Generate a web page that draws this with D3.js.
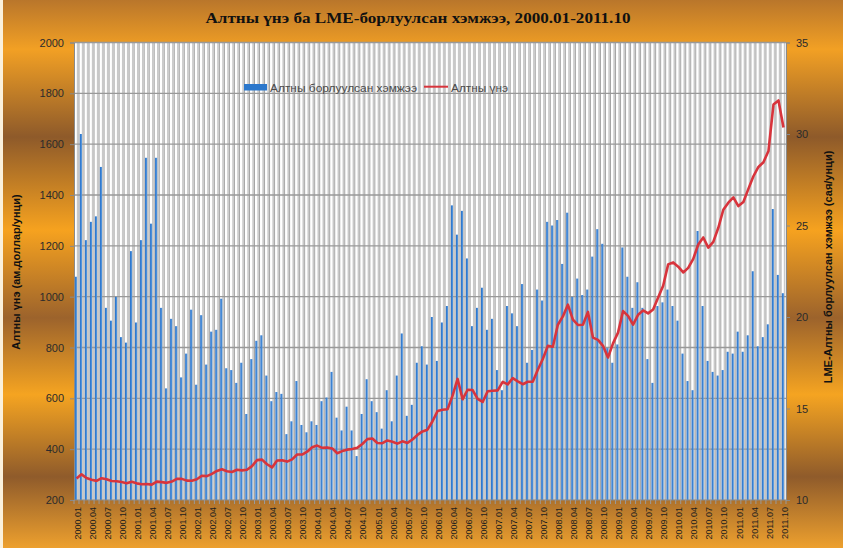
<!doctype html>
<html>
<head>
<meta charset="utf-8">
<title>Алтны үнэ ба LME</title>
<script src="https://d3js.org/d3.v7.min.js"></script>
<style>
  body { margin: 0; }
  svg { display: block; }
</style>
</head>
<body>
<div id="chart"></div>
<script>
// months 2000.01 - 2011.10
const years = [2000, 2001, 2002, 2003, 2004, 2005, 2006, 2007, 2008, 2009, 2010, 2011];
const months = [];
years.forEach(y => {
  for (let m = 1; m <= 12; m++) {
    if (y === 2011 && m > 10) break;
    months.push(y + '.' + (m < 10 ? '0' + m : m));
  }
});

// gold price, USD/oz (left axis)
const goldPrice = [
  284.6, 300.9, 286.4, 279.7, 275.3, 285.7, 281.6, 274.5, 273.7, 270.6, 265.5, 271.5,
  265.5, 261.9, 263.0, 260.5, 272.4, 270.2, 267.5, 272.4, 283.4, 283.1, 276.2, 275.9,
  281.7, 295.5, 294.0, 302.7, 314.5, 321.2, 313.3, 310.3, 319.2, 316.6, 319.2, 333.4,
  356.9, 359.0, 340.6, 328.2, 355.7, 356.4, 351.0, 359.8, 378.9, 378.9, 389.9, 407.6,
  414.0, 405.3, 406.7, 403.0, 383.8, 392.4, 398.1, 400.5, 405.3, 420.5, 439.4, 441.8,
  424.0, 423.4, 434.2, 429.2, 421.9, 430.7, 424.5, 437.9, 456.0, 469.9, 476.7, 509.8,
  549.9, 555.0, 557.1, 610.6, 676.5, 596.2, 633.7, 632.6, 598.2, 585.8, 627.8, 629.8,
  631.2, 664.8, 654.9, 679.4, 666.9, 655.5, 665.3, 665.4, 712.7, 754.6, 806.3, 803.2,
  889.6, 922.3, 968.4, 909.7, 888.7, 889.5, 939.8, 839.0, 829.9, 806.6, 760.9, 816.1,
  858.7, 943.2, 924.3, 890.2, 928.6, 945.7, 934.2, 949.4, 996.6, 1043.2, 1127.0, 1134.7,
  1118.0, 1095.4, 1113.3, 1148.7, 1205.4, 1232.9, 1193.0, 1215.8, 1271.0, 1342.0, 1369.9, 1390.6,
  1356.4, 1372.7, 1424.0, 1473.8, 1510.4, 1528.7, 1572.8, 1755.8, 1771.9, 1665.2
];

// LME gold sold, million oz (right axis)
const lmeVolume = [
  22.2, 30.0, 24.2, 25.2, 25.5, 28.2, 20.5, 19.8, 21.1, 18.9, 18.6, 23.6,
  19.7, 24.2, 28.7, 25.1, 28.7, 20.5, 16.1, 19.9, 19.5, 16.7, 18.0, 20.4,
  16.3, 20.1, 17.4, 19.2, 19.3, 21.0, 17.2, 17.1, 16.4, 17.5, 14.7, 17.7,
  18.7, 19.0, 16.8, 15.4, 15.9, 15.8, 13.6, 14.3, 16.5, 14.1, 13.7, 14.3,
  14.1, 15.4, 15.6, 17.0, 14.5, 13.8, 15.1, 13.8, 12.4, 14.7, 16.6, 15.4,
  14.8, 13.9, 16.0, 14.3, 16.8, 19.1, 14.6, 15.2, 17.5, 18.4, 17.4, 20.0,
  17.6, 19.7, 20.6, 26.1, 24.5, 25.8, 23.2, 19.5, 20.5, 21.6, 19.3, 19.9,
  17.1, 16.0, 20.6, 20.2, 19.5, 21.8, 17.5, 18.2, 21.5, 20.9, 25.2, 25.0,
  25.3, 22.9, 25.7, 21.1, 22.1, 21.2, 21.5, 23.3, 24.8, 24.0, 18.3, 17.5,
  18.5, 23.8, 22.2, 20.5, 21.9, 20.5, 17.7, 16.4, 20.6, 20.8, 21.5, 20.6,
  19.8, 18.0, 16.5, 16.0, 24.7, 20.6, 17.6, 17.0, 16.8, 17.1, 18.1, 18.0,
  19.2, 18.1, 19.0, 22.5, 18.4, 18.9, 19.6, 25.9, 22.3, 21.3
];

const leftTicks = [200, 400, 600, 800, 1000, 1200, 1400, 1600, 1800, 2000];
const rightTicks = [10, 15, 20, 25, 30, 35];
const xLabels = months.filter((d, i) => i % 3 === 0);

const W = 843, H = 548;
const plot = { left: 74, right: 786, top: 42.5, bottom: 500 };
const font = '"Liberation Sans", Arial, sans-serif';

const svg = d3.select('#chart').append('svg')
  .attr('width', W)
  .attr('height', H);

// background gradient
const defs = svg.append('defs');
const bg = defs.append('linearGradient')
  .attr('id', 'bg').attr('x1', 0).attr('y1', 0).attr('x2', 0).attr('y2', 1);
[[0, '#b9762b'], [0.09, '#f2a024'], [0.25, '#8e5a2a'], [0.42, '#f6a21f'],
 [0.58, '#9c632c'], [0.72, '#f5a421'], [0.87, '#8f5b2b'], [1, '#eda02e']]
  .forEach(s => bg.append('stop').attr('offset', s[0]).attr('stop-color', s[1]));

const barGrad = defs.append('linearGradient')
  .attr('id', 'barGrad').attr('x1', 0).attr('y1', 0).attr('x2', 1).attr('y2', 0);
barGrad.append('stop').attr('offset', 0).attr('stop-color', '#1f6cc9');
barGrad.append('stop').attr('offset', 1).attr('stop-color', '#5e9ddf');

svg.append('rect').attr('width', W).attr('height', H).attr('fill', 'url(#bg)');
svg.append('rect').attr('width', 3).attr('height', H).attr('fill', '#fbf1dc');

// scales
const x = d3.scaleBand().domain(months).range([plot.left, plot.right]).padding(0);
const yLeft = d3.scaleLinear().domain([200, 2000]).range([plot.bottom, plot.top]);
const yRight = d3.scaleLinear().domain([10, 35]).range([plot.bottom, plot.top]);
const bw = x.bandwidth();

// plot area
svg.append('rect')
  .attr('x', plot.left).attr('y', plot.top)
  .attr('width', plot.right - plot.left).attr('height', plot.bottom - plot.top)
  .attr('fill', '#ffffff');

// vertical grid: light band + dark line per month
svg.append('g').selectAll('rect')
  .data(months)
  .join('rect')
  .attr('x', d => x(d) + bw * 0.56)
  .attr('y', plot.top)
  .attr('width', bw * 0.32)
  .attr('height', plot.bottom - plot.top)
  .attr('fill', '#c9c9c9');

svg.append('g').selectAll('line')
  .data(months.slice(1))
  .join('line')
  .attr('x1', d => x(d)).attr('x2', d => x(d))
  .attr('y1', plot.top).attr('y2', plot.bottom)
  .attr('stroke', '#9b9b9b').attr('stroke-width', 0.9);

// horizontal grid
svg.append('g').selectAll('line')
  .data(leftTicks.slice(1))
  .join('line')
  .attr('x1', plot.left).attr('x2', plot.right)
  .attr('y1', d => yLeft(d)).attr('y2', d => yLeft(d))
  .attr('stroke', '#999999').attr('stroke-width', 1.4);

// bars
svg.append('g').selectAll('rect')
  .data(lmeVolume)
  .join('rect')
  .attr('x', (d, i) => x(months[i]) + bw * 0.17)
  .attr('y', d => yRight(d))
  .attr('width', bw * 0.42)
  .attr('height', d => yRight(10) - yRight(d))
  .attr('fill', 'url(#barGrad)');

// price line
const line = d3.line()
  .x((d, i) => x(months[i]) + bw / 2)
  .y(d => yLeft(d));

svg.append('path')
  .datum(goldPrice)
  .attr('d', line)
  .attr('fill', 'none')
  .attr('stroke', '#d8343c')
  .attr('stroke-width', 2.6)
  .attr('stroke-linejoin', 'round');

// axes
const axL = svg.append('g')
  .attr('transform', 'translate(' + plot.left + ',0)')
  .call(d3.axisLeft(yLeft).tickValues(leftTicks).tickFormat(d3.format('d')).tickSize(4).tickPadding(6));
const axR = svg.append('g')
  .attr('transform', 'translate(' + plot.right + ',0)')
  .call(d3.axisRight(yRight).tickValues(rightTicks).tickFormat(d3.format('d')).tickSize(4).tickPadding(6));

[axL, axR].forEach(a => {
  a.select('.domain').attr('stroke', '#8a8a8a');
  a.selectAll('.tick line').attr('stroke', '#8a8a8a');
  a.selectAll('text').style('font-family', font).style('font-size', '11px').attr('fill', '#2b2b2b');
});

// bottom axis line + ticks at category boundaries
svg.append('line')
  .attr('x1', plot.left).attr('x2', plot.right)
  .attr('y1', plot.bottom).attr('y2', plot.bottom)
  .attr('stroke', '#8a8a8a').attr('stroke-width', 1.2);

svg.append('g').selectAll('line')
  .data(months.concat(['end']))
  .join('line')
  .attr('x1', d => d === 'end' ? plot.right : x(d))
  .attr('x2', d => d === 'end' ? plot.right : x(d))
  .attr('y1', plot.bottom).attr('y2', plot.bottom + 4)
  .attr('stroke', '#9a9a9a');

const axB = svg.append('g')
  .attr('transform', 'translate(0,' + plot.bottom + ')')
  .call(d3.axisBottom(x).tickValues(xLabels).tickSize(0));
axB.select('.domain').remove();
axB.selectAll('text')
  .attr('transform', 'rotate(-90)')
  .attr('x', -7).attr('y', 1).attr('dy', '0.35em')
  .style('text-anchor', 'end')
  .style('font-family', font).style('font-size', '9px')
  .attr('fill', '#1e1e1e');

// title
svg.append('text')
  .attr('x', 418).attr('y', 23)
  .attr('text-anchor', 'middle')
  .attr('textLength', 425).attr('lengthAdjust', 'spacingAndGlyphs')
  .style('font-family', '"Liberation Serif", "Times New Roman", serif')
  .style('font-size', '15px').style('font-weight', 'bold')
  .attr('fill', '#111')
  .text('Алтны үнэ ба LME-борлуулсан хэмжээ, 2000.01-2011.10');

// axis titles
svg.append('text')
  .attr('transform', 'translate(20,272) rotate(-90)')
  .attr('text-anchor', 'middle')
  .style('font-family', font).style('font-size', '11px').style('font-weight', 'bold')
  .attr('fill', '#111')
  .text('Алтны үнэ (ам.доллар/унци)');

svg.append('text')
  .attr('transform', 'translate(832,267) rotate(-90)')
  .attr('text-anchor', 'middle')
  .style('font-family', font).style('font-size', '11px').style('font-weight', 'bold')
  .attr('fill', '#111')
  .text('LME-Алтны борлуулсан хэмжээ (сая/унци)');

// legend
const lg = svg.append('g');
lg.append('rect').attr('x', 244).attr('y', 84).attr('width', 23).attr('height', 6.5).attr('fill', '#2c78cc');
lg.append('text').attr('x', 270).attr('y', 91.5)
  .attr('textLength', 147).attr('lengthAdjust', 'spacingAndGlyphs')
  .style('font-family', font).style('font-size', '11px').attr('fill', '#4a4a4a')
  .text('Алтны борлуулсан хэмжээ');
lg.append('line').attr('x1', 424).attr('x2', 448).attr('y1', 86.7).attr('y2', 86.7)
  .attr('stroke', '#d8343c').attr('stroke-width', 2);
lg.append('text').attr('x', 451).attr('y', 91.5)
  .attr('textLength', 57).attr('lengthAdjust', 'spacingAndGlyphs')
  .style('font-family', font).style('font-size', '11px').attr('fill', '#4a4a4a')
  .text('Алтны үнэ');
</script>
</body>
</html>
